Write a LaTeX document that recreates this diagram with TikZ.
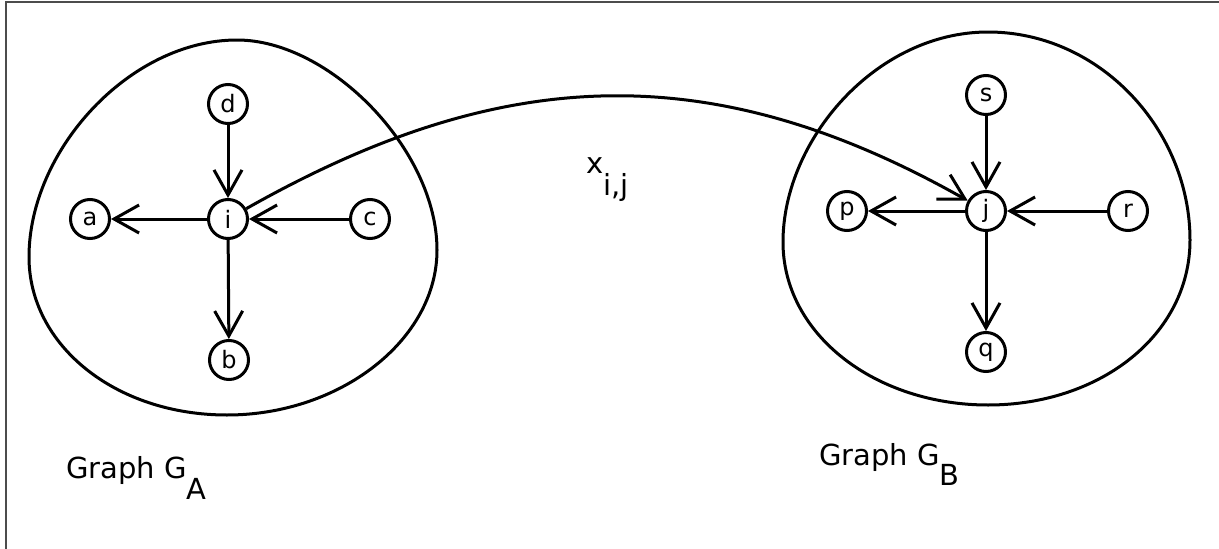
\documentclass[tikz,border=0pt]{standalone}
\usepackage{fontspec}
\setmainfont{DejaVu Sans}
\usepackage{tikz}
\usetikzlibrary{arrows.meta,positioning}

\tikzset{
  vertex/.style={draw, circle, line width=3pt, minimum size=39pt, inner sep=0pt, font=\fontsize{24}{26}\selectfont},
  blob/.style={line width=3pt},
  arc/.style={line width=3pt, -{Straight Barb[length=25pt,width=28pt,line width=3pt]}},
  caption/.style={anchor=base west, inner sep=0pt, font=\fontsize{29}{32}\selectfont}
}

\begin{document}
\begin{tikzpicture}[x=1pt, y=-1pt]
\useasboundingbox (0,0) rectangle (1219,549);
\draw[line width=1.6pt, black!70] (6,549) -- (6,2) -- (1219,2);

% graph A
\draw[blob] (237,40) .. controls (330,40) and (437,150) .. (437,250)
  .. controls (437,340) and (340,415) .. (227,415)
  .. controls (115,415) and (29,345) .. (29,257)
  .. controls (29,150) and (130,40) .. cycle;
\node[vertex] (i) at (228,219) {i};
\node[vertex] (d) at (228,104) {d};
\node[vertex] (a) at (90,219) {a};
\node[vertex] (c) at (370,219) {c};
\node[vertex] (b) at (229,360) {b};
\draw[arc] (d) -- (i);
\draw[arc] (c) -- (i);
\draw[arc] (i) -- (a);
\draw[arc] (i) -- (b);

% graph B
\draw[blob] (988,32) .. controls (1100,32) and (1190,130) .. (1190,240)
  .. controls (1190,335) and (1100,405) .. (988,405)
  .. controls (876,405) and (783,335) .. (783,242)
  .. controls (783,140) and (876,32) .. cycle;
\node[vertex] (j) at (986,211) {j};
\node[vertex] (s) at (986,95) {s};
\node[vertex] (p) at (847,211) {p};
\node[vertex] (r) at (1128,211) {r};
\node[vertex] (q) at (986,352) {q};
\draw[arc] (s) -- (j);
\draw[arc] (r) -- (j);
\draw[arc] (j) -- (p);
\draw[arc] (j) -- (q);

% matching
\draw[arc] (i) .. controls (500,65) and (710,55) .. (j);
\node[caption] (xij) at (586,173) {x\raisebox{-22pt}{i,j}};

\node[caption] (ga) at (66,478) {Graph G\raisebox{-21pt}{A}};
\node[caption] (gb) at (819,465) {Graph G\raisebox{-20pt}{B}};
\end{tikzpicture}
\end{document}
